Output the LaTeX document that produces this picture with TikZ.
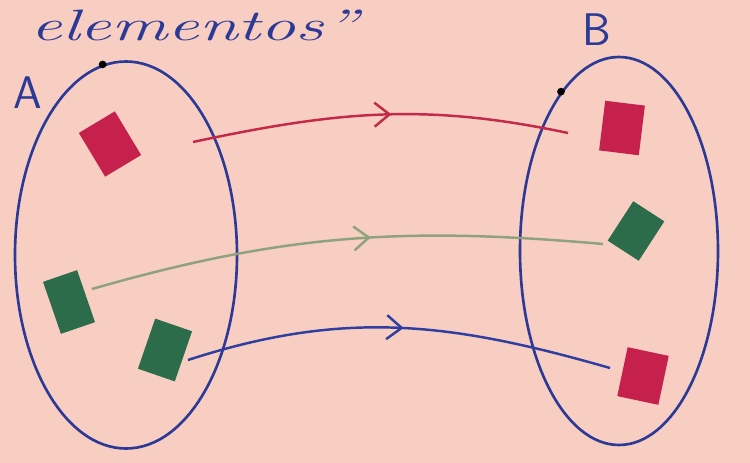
\documentclass[tikz,border=0pt]{standalone}
\usepackage{xcolor}
\usepackage{tikz}
\usetikzlibrary{positioning,arrows.meta,shapes.geometric,decorations.markings}
\definecolor{paper}{HTML}{F7CEC1}
\definecolor{ink}{HTML}{2B3A96}
\definecolor{redbox}{HTML}{C6204C}
\definecolor{greenbox}{HTML}{2D6C4A}
\definecolor{redline}{HTML}{C42A48}
\definecolor{greenline}{HTML}{8FA27E}
\definecolor{blueline}{HTML}{2E3FA0}
\tikzset{
  set/.style={draw=ink, line width=1.5pt, ellipse, inner sep=0pt},
  card/.style={draw=none, inner sep=0pt, minimum width=#1},
  rcard/.style={card=8mm, fill=redbox},
  gcard/.style={card=7.4mm, fill=greenbox},
  midarrow/.style={line width=1.4pt, postaction={decorate},
    decoration={markings, mark=at position #1 with {\arrow[line width=1.4pt]{Straight Barb[length=3mm,width=4.8mm]}}}},
  lbl/.style={text=ink, font=\sffamily\fontsize{26}{26}\selectfont, inner sep=0pt},
}
\begin{document}
\begin{tikzpicture}
  \fill[paper] (0,0) rectangle (15,9.26);
  \useasboundingbox (0,0) rectangle (15,9.26);
  % title at the top edge
  \node[text=ink, font=\itshape\fontsize{25}{25}\selectfont, anchor=base west, inner sep=0pt, xscale=1.6] (title) at (0.60,8.44) {elementos”};
  % the two sets
  \node[set, minimum width=4.44cm, minimum height=7.74cm] (setA) at (2.52,4.16) {};
  \node[set, minimum width=3.96cm, minimum height=7.76cm] (setB) at (12.38,4.24) {};
  \fill[black] (setA.97) circle (2.2pt);
  \fill[black] (setB.110) circle (2.2pt);
  \node[lbl] (labA) at (0.56,7.40) {A};
  \node[lbl] (labB) at (11.94,8.66) {B};
  % elements of A
  \node[rcard, minimum height=1.02cm, minimum width=0.84cm, rotate=31] (a1) at (2.20,6.38) {};
  \node[gcard, minimum height=1.10cm, minimum width=0.72cm, rotate=19] (a2) at (1.38,3.22) {};
  \node[gcard, minimum height=1.06cm, minimum width=0.78cm, rotate=-19] (a3) at (3.30,2.26) {};
  % elements of B
  \node[rcard, minimum height=1.00cm, minimum width=0.80cm, rotate=-7] (b1) at (12.44,6.70) {};
  \node[gcard, minimum height=0.94cm, minimum width=0.74cm, rotate=-33] (b2) at (12.72,4.64) {};
  \node[rcard, minimum height=1.00cm, minimum width=0.84cm, rotate=-12] (b3) at (12.86,1.74) {};
  % free ends of the arrows
  \coordinate (r0) at (3.86,6.42);
  \coordinate (r1) at (11.36,6.60);
  \coordinate (g0) at (1.84,3.48);
  \coordinate (g1) at (12.06,4.38);
  \coordinate (u0) at (3.76,2.06);
  \coordinate (u1) at (12.20,1.90);
  \draw[redline, midarrow=0.53] (r0) to[out=12, in=168] (r1);
  \draw[greenline, midarrow=0.55] (g0) to[out=16, in=175] (g1);
  \draw[blueline, midarrow=0.51] (u0) to[out=18, in=164] (u1);
\end{tikzpicture}
\end{document}
